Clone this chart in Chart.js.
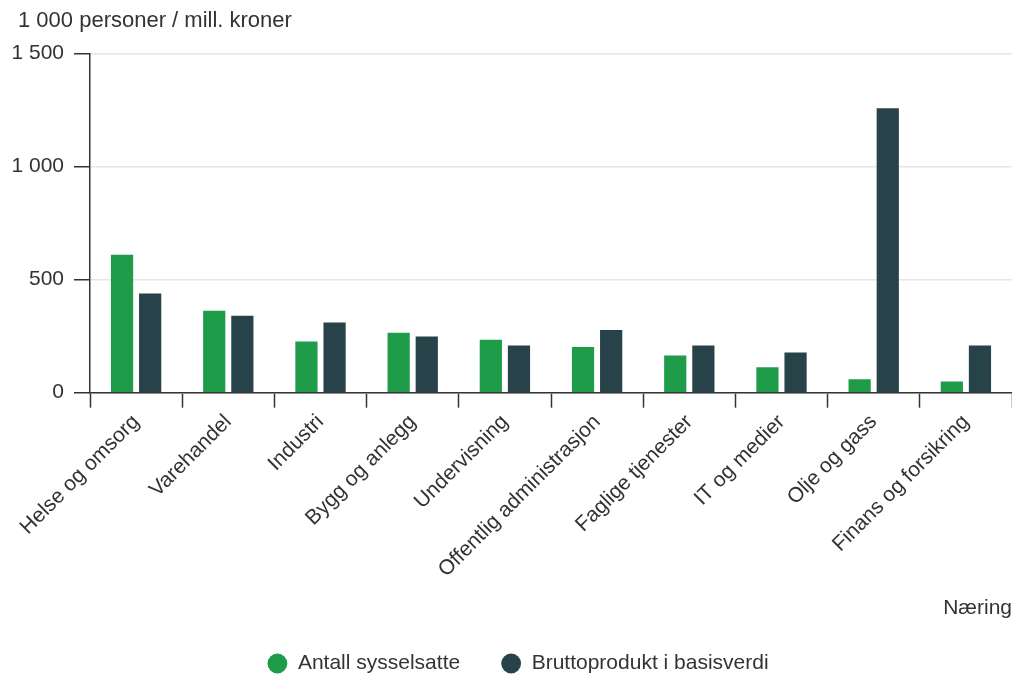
<!DOCTYPE html>
<html>
<head>
<meta charset="utf-8">
<script src="https://cdn.jsdelivr.net/npm/chart.js@4.4.1/dist/chart.umd.min.js"></script>
<style>
  html, body { margin: 0; padding: 0; background: #ffffff; }
  #wrap { width: 1012px; height: 675px; position: relative; }
</style>
</head>
<body>
<div id="wrap"><canvas id="c" width="1012" height="675"></canvas></div>
<script>
const categories = ["Helse og omsorg", "Varehandel", "Industri", "Bygg og anlegg", "Undervisning",
  "Offentlig administrasjon", "Faglige tjenester", "IT og medier", "Olje og gass", "Finans og forsikring"];
const sysselsatte = [610, 362, 226, 265, 234, 202, 164, 112, 59, 50];
const bruttoprodukt = [438, 340, 310, 248, 209, 277, 209, 178, 1258, 209];
const seriesNames = ["Antall sysselsatte", "Bruttoprodukt i basisverdi"];
const unitLabel = "1 000 personer / mill. kroner";
const xTitle = "Næring";
const yTicks = [0, 500, 1000, 1500];

const FONT = "'Liberation Sans', Arial, sans-serif";
const TXT = "#333333";
Chart.defaults.font.family = FONT;
Chart.defaults.color = TXT;

const shiftBlocks = {
  id: 'shiftBlocks',
  afterLayout(chart) {
    if (chart.titleBlock) { chart.titleBlock.left += 10; }
    if (chart.legend) { chart.legend.left += 8; chart.legend.right += 8; }
  }
};

new Chart(document.getElementById('c'), {
  type: 'bar',
  data: {
    labels: categories,
    datasets: [
      { label: seriesNames[0], data: sysselsatte, backgroundColor: '#1e9c4a', categoryPercentage: 0.61, barPercentage: 0.79 },
      { label: seriesNames[1], data: bruttoprodukt, backgroundColor: '#274249', categoryPercentage: 0.61, barPercentage: 0.79 }
    ]
  },
  plugins: [shiftBlocks],
  options: {
    responsive: false,
    animation: false,
    devicePixelRatio: 1,
    layout: { padding: { left: 8, right: 0, top: 0, bottom: 0 } },
    plugins: {
      title: {
        display: true, text: unitLabel, align: 'start',
        font: { size: 22, weight: 'normal' }, color: TXT,
        padding: { top: 8, bottom: 19 }
      },
      legend: {
        position: 'bottom',
        maxHeight: 63,
        labels: {
          usePointStyle: true, pointStyle: 'circle', boxHeight: 14, boxWidth: 20,
          font: { size: 21 }, color: TXT, padding: 41
        }
      },
      tooltip: { enabled: false }
    },
    scales: {
      x: {
        offset: true,
        grid: { display: true, drawOnChartArea: false, drawTicks: true, tickLength: 15, tickColor: '#333', tickWidth: 1.5, offset: true },
        border: { display: true, color: '#333', width: 1.5 },
        ticks: { font: { size: 21 }, color: TXT, maxRotation: 45, minRotation: 45, padding: 2, autoSkip: false },
        title: { display: true, text: xTitle, align: 'end', font: { size: 21 }, color: TXT, padding: { top: 11, bottom: -8.6 } }
      },
      y: {
        min: 0, max: 1500,
        afterBuildTicks: (s) => { s.ticks = yTicks.map(v => ({ value: v })); },
        afterFit: (s) => { s.width = 82; },
        grid: { color: '#e6e6e6', lineWidth: 1.5, drawTicks: true, tickLength: 16, tickColor: '#333', tickWidth: 1.5 },
        border: { display: true, color: '#333', width: 1.5 },
        ticks: {
          font: { size: 21 }, color: TXT, padding: 10,
          callback: (v) => String(v).replace(/\B(?=(\d{3})+(?!\d))/g, ' ')
        }
      }
    }
  }
});
</script>
</body>
</html>
